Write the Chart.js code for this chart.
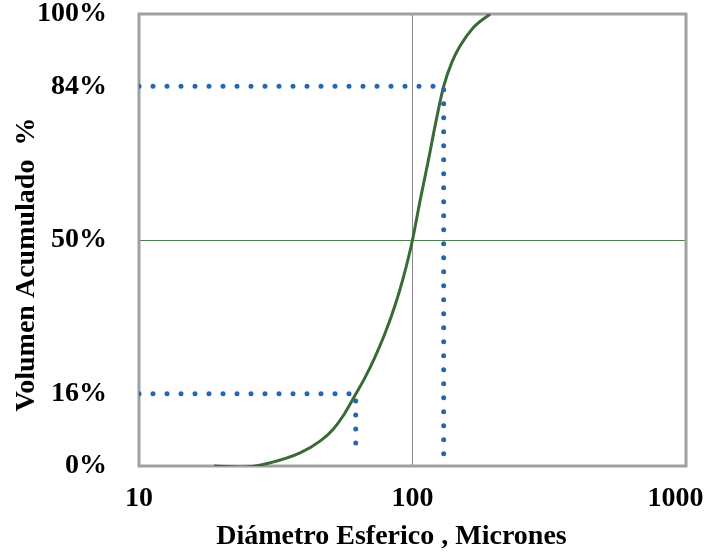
<!DOCTYPE html>
<html>
<head>
<meta charset="utf-8">
<script src="https://cdn.jsdelivr.net/npm/chart.js@4"></script>
<style>
  body { margin: 0; background: #fff; }
  #wrap { width: 705px; height: 552px; }
</style>
</head>
<body>
<div id="wrap"><canvas id="psd-chart" width="705" height="552"></canvas></div>
<script>
// --------------- particle size distribution --------------- //

// cumulative curve
const sizeMicrons = [18.8, 24, 30.1, 38.8, 45.9, 51.2, 56.2, 61.6, 67.1, 72.9, 79.3, 86.3, 92.3,
  100, 106.5, 114, 121.9, 130, 139.5, 149.2, 166.4, 192];
const volumePct = [0, -0.3, 0.7, 2.9, 5.5, 8.1, 11.4, 15.6, 19.6, 24.1, 29.3, 35.5, 41.4,
  50, 58.6, 67.3, 76.3, 84, 89.4, 92.9, 96.9, 100];

// dotted guides for d16 and d84
const guide16X = [10, 62, 62];
const guide16Y = [16, 16, 2];
const guide84X = [10, 130, 130];
const guide84Y = [84, 84, 0];

// tick labels
const xTicks = [10, 100, 1000];
const yTicks = [0, 16, 50, 84, 100];

const toPoints = (xs, ys) => xs.map((x, i) => ({ x: x, y: ys[i] }));

const serif = '"Liberation Serif", "Times New Roman", serif';
const tickFont = { family: serif, size: 28, weight: 'bold', lineHeight: 1.2 };
const titleFont = { family: serif, size: 28, weight: 'bold', lineHeight: 1.1 };

// box round the plot area
const plotBorder = {
  id: 'plotBorder',
  beforeDatasetsDraw(chart) {
    const { ctx, chartArea } = chart;
    ctx.save();
    ctx.strokeStyle = '#a0a0a0';
    ctx.lineWidth = 3;
    ctx.strokeRect(chartArea.left, chartArea.top, chartArea.right - chartArea.left, chartArea.bottom - chartArea.top);
    ctx.restore();
  }
};

const dotted = {
  borderColor: '#2466b0',
  borderWidth: 5,
  borderDash: [0, 14],
  borderCapStyle: 'round',
  borderJoinStyle: 'round',
  pointRadius: 0,
  tension: 0,
  fill: false
};

const psdData = {
  datasets: [
    Object.assign({ label: 'd16', data: toPoints(guide16X, guide16Y) }, dotted),
    Object.assign({ label: 'd84', data: toPoints(guide84X, guide84Y) }, dotted),
    {
      label: 'Volumen Acumulado',
      data: toPoints(sizeMicrons, volumePct),
      borderColor: '#386b35',
      borderWidth: 3,
      pointRadius: 0,
      cubicInterpolationMode: 'monotone',
      fill: false
    }
  ]
};

const psdOptions = {
  responsive: false,
  animation: false,
  layout: {
    padding: { top: 14, right: 19, bottom: 0, left: 0 }
  },
  plugins: {
    legend: { display: false },
    tooltip: { enabled: false }
  },
  scales: {
    x: {
      type: 'logarithmic',
      min: 10,
      max: 1000,
      afterBuildTicks: (axis) => { axis.ticks = xTicks.map(v => ({ value: v })); },
      afterFit: (axis) => {
        axis.height = 86;
        axis.paddingLeft = 0;
        axis.paddingRight = 0;
        axis.paddingTop = 0;
        axis.paddingBottom = 0;
      },
      border: { display: false },
      grid: {
        drawTicks: false,
        lineWidth: 1,
        color: (ctx) => ctx.tick && ctx.tick.value === 100 ? '#8a8a8a' : 'rgba(0,0,0,0)'
      },
      ticks: {
        color: '#000',
        font: tickFont,
        padding: 16,
        maxRotation: 0,
        // excel nudges the last label back inside the window
        callback: (v) => v === 1000 ? '1000   ' : String(v)
      },
      title: {
        display: true,
        text: 'Diámetro Esferico , Micrones      ',
        color: '#000',
        font: titleFont,
        padding: { top: 0, bottom: 0 }
      }
    },
    y: {
      type: 'linear',
      min: 0,
      max: 100,
      afterBuildTicks: (axis) => { axis.ticks = yTicks.map(v => ({ value: v })); },
      afterFit: (axis) => {
        axis.width = 139;
        axis.paddingTop = 0;
        axis.paddingBottom = 0;
      },
      border: { display: false },
      grid: {
        drawTicks: false,
        lineWidth: 1,
        color: (ctx) => ctx.tick && ctx.tick.value === 50 ? '#4e7d4e' : 'rgba(0,0,0,0)'
      },
      ticks: {
        color: '#000',
        font: tickFont,
        padding: 32,
        callback: (v) => v + '%'
      },
      title: {
        display: true,
        text: 'Volumen Acumulado  %       ',
        color: '#000',
        font: titleFont,
        padding: { top: 11, bottom: 0 }
      }
    }
  }
};

const psdChart = new Chart(
  document.getElementById('psd-chart'),
  {
    type: 'line',
    data: psdData,
    plugins: [plotBorder],
    options: psdOptions
  }
);
</script>
</body>
</html>
